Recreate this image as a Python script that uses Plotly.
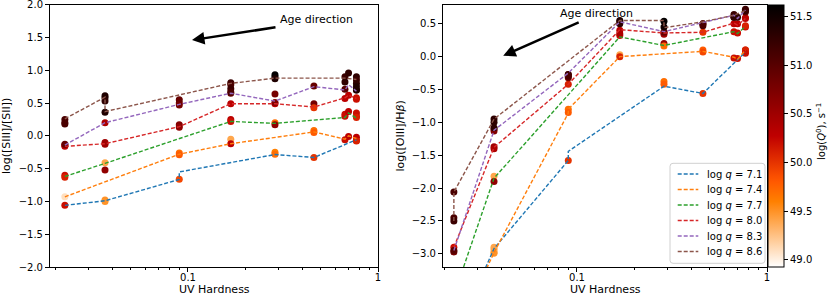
import math
import plotly.graph_objects as go

# ---------------- data ----------------
# UV hardness positions (model ages)
X = [0.0225, 0.0366, 0.090, 0.168, 0.287, 0.46, 0.67, 0.70, 0.77]
x1, x2, x3, x4, x5, x6, x7, x7b, x8 = X

q_labels = ["7.1", "7.4", "7.7", "8.0", "8.3", "8.6"]
line_colors = ["#1f77b4", "#ff7f0e", "#2ca02c", "#d62728", "#9467bd", "#8c564b"]

# ---- left panel: log([SIII]/[SII]) dashed tracks ----
L71_x = [x1, x2, x3, x3, x5, x6, x8]
L71_y = [-1.06, -0.99, -0.665, -0.55, -0.285, -0.33, -0.06]
L74_x = [x1, x3, x4, x6, x7, x7b, x8]
L74_y = [-0.93, -0.28, -0.12, 0.06, -0.05, 0.0, -0.04]
L77_x = [x1, x2, x4, x5, x7, x7b, x8]
L77_y = [-0.62, -0.42, 0.22, 0.19, 0.28, 0.35, 0.27]
L80_x = [x1, x2, x3, x4, x5, x6, x7, x7b, x8]
L80_y = [-0.16, -0.12, 0.14, 0.49, 0.49, 0.44, 0.58, 0.62, 0.57]
L83_x = [x1, x2, x3, x4, x5, x6, x7, x7b, x8]
L83_y = [-0.14, 0.20, 0.48, 0.65, 0.53, 0.75, 0.70, 0.78, 0.68]
L86_x = [x1, x2, x2, x4, x5, x7, x8]
L86_y = [0.26, 0.59, 0.37, 0.80, 0.88, 0.88, 0.86]

# ---- left panel model points (x, y, logQ0) ----
LP_x = [x1, x2, x2, x3, x5, x5, x6, x8,
        x1, x2, x3, x3, x4, x4, x6, x6, x7, x7b, x8, x8,
        x1, x1, x2, x4, x4, x5, x5, x7, x7, x7b, x8, x8, x8,
        x1, x1, x2, x2, x3, x3, x4, x5, x6, x6, x7, x7b, x8, x8,
        x1, x2, x3, x3, x3, x4, x5, x5, x6, x7, x8,
        x1, x1, x1, x2, x2, x2, x2, x4, x4, x4, x4, x5, x5, x5, x7, x7, x7b, x8, x8, x8, x8, x8]
LP_y = [-1.06, -0.98, -1.00, -0.66, -0.25, -0.28, -0.33, -0.07,
        -0.93, -0.41, -0.26, -0.29, -0.05, -0.12, 0.08, 0.05, -0.06, -0.01, -0.02, -0.08,
        -0.60, -0.63, -0.52, 0.25, 0.22, 0.20, 0.17, 0.30, 0.33, 0.37, 0.35, 0.30, 0.28,
        -0.14, -0.16, -0.10, -0.13, 0.17, 0.13, 0.49, 0.49, 0.49, 0.43, 0.57, 0.62, 0.58, 0.56,
        -0.13, 0.20, 0.55, 0.50, 0.47, 0.65, 0.64, 0.51, 0.76, 0.71, 0.70,
        0.25, 0.20, 0.18, 0.61, 0.58, 0.53, 0.36, 0.81, 0.78, 0.72, 0.67, 0.93, 0.90, 0.87, 0.90, 0.82, 0.96, 0.90, 0.85, 0.80, 0.75, 0.70]
LP_q = [50.2, 49.5, 49.5, 49.9, 49.6, 49.7, 50.0, 50.2,
        49.1, 49.4, 49.7, 49.8, 49.4, 50.3, 49.7, 49.8, 50.2, 50.3, 50.3, 50.1,
        50.2, 50.1, 50.6, 50.3, 50.2, 49.7, 50.6, 50.2, 50.2, 50.3, 50.2, 50.2, 50.1,
        50.4, 50.3, 50.5, 50.5, 50.7, 50.6, 50.3, 50.3, 50.8, 50.0, 50.3, 50.3, 50.2, 50.2,
        50.9, 50.4, 50.9, 50.9, 50.8, 50.9, 50.8, 50.7, 50.9, 51.0, 51.1,
        51.1, 51.1, 51.1, 51.4, 51.4, 51.3, 51.4, 51.2, 51.1, 51.2, 51.1, 51.6, 51.6, 51.4, 51.2, 51.3, 51.3, 51.3, 51.2, 51.3, 51.4, 51.4]

# ---- right panel: log([OIII]/Hbeta) dashed tracks ----
R71_x = [x1, x2, x3, x3, x5, x6, x8]
R71_y = [-4.3, -2.92, -1.58, -1.44, -0.45, -0.56, 0.07]
R74_x = [x1, x2, x3, x3, x4, x6, x7, x7b, x8]
R74_y = [-4.3, -2.98, -0.86, -0.80, 0.0, 0.08, -0.01, -0.04, 0.10]
R77_x = [x1, x2, x4, x5, x7, x7b, x8]
R77_y = [-3.63, -1.85, 0.30, 0.17, 0.38, 0.35, 0.46]
R80_x = [x1, x2, x3, x4, x5, x6, x7, x7b, x8]
R80_y = [-2.90, -1.38, -0.42, 0.41, 0.36, 0.37, 0.51, 0.48, 0.58]
R83_x = [x1, x2, x3, x4, x5, x6, x7, x7b, x8]
R83_y = [-2.95, -1.12, -0.25, 0.53, 0.38, 0.52, 0.63, 0.58, 0.71]
R86_x = [x1, x1, x2, x4, x5, x5, x6, x7, x8]
R86_y = [-2.50, -2.06, -0.95, 0.55, 0.55, 0.44, 0.53, 0.63, 0.70]

# ---- right panel model points (x, y, logQ0) ----
RP_x = [x2, x2, x3, x5, x5, x6, x8, x8,
        x2, x2, x3, x3, x4, x4, x6, x6, x7, x7b, x8, x8,
        x2, x2, x4, x5, x5, x7, x7b, x8, x8,
        x1, x1, x2, x2, x3, x4, x4, x5, x5, x6, x7, x7b, x8, x8,
        x1, x2, x2, x3, x3, x4, x5, x6, x7, x8,
        x1, x1, x1, x2, x2, x2, x3, x3, x4, x4, x5, x5, x6, x6, x7, x7, x7b, x8, x8]
RP_y = [-2.90, -2.97, -1.58, -0.38, -0.42, -0.56, 0.07, 0.10,
        -2.93, -2.99, -0.80, -0.85, 0.03, 0.0, 0.10, 0.07, -0.02, -0.03, 0.10, 0.05,
        -1.82, -1.90, 0.32, 0.20, 0.16, 0.38, 0.36, 0.45, 0.47,
        -2.90, -2.97, -1.37, -1.40, -0.42, 0.40, 0.35, 0.37, 0.34, 0.37, 0.50, 0.50, 0.59, 0.58,
        -2.95, -1.10, -1.13, -0.27, -0.32, 0.53, 0.37, 0.50, 0.60, 0.68,
        -2.06, -2.45, -2.50, -0.95, -1.00, -1.08, -0.27, -0.30, 0.55, 0.50, 0.54, 0.45, 0.50, 0.47, 0.64, 0.60, 0.60, 0.70, 0.72]
RP_q = [49.4, 49.5, 50.0, 49.7, 49.8, 50.0, 50.1, 50.1,
        49.4, 49.5, 49.7, 49.8, 49.4, 50.1, 49.8, 49.9, 50.2, 50.2, 50.1, 50.2,
        49.4, 50.6, 50.2, 50.6, 49.7, 50.2, 50.2, 50.2, 50.1,
        50.2, 50.8, 50.5, 50.4, 50.1, 50.3, 50.4, 50.4, 50.5, 50.0, 50.3, 50.3, 50.2, 50.3,
        51.0, 50.9, 50.7, 50.8, 50.8, 51.0, 50.9, 50.9, 51.0, 51.0,
        51.1, 51.1, 51.2, 51.3, 51.3, 51.3, 51.2, 51.1, 51.4, 51.3, 51.6, 51.5, 51.1, 51.1, 51.2, 51.3, 51.3, 51.3, 51.2]

left_lines = [(L71_x, L71_y), (L74_x, L74_y), (L77_x, L77_y),
              (L80_x, L80_y), (L83_x, L83_y), (L86_x, L86_y)]
right_lines = [(R71_x, R71_y), (R74_x, R74_y), (R77_x, R77_y),
               (R80_x, R80_y), (R83_x, R83_y), (R86_x, R86_y)]

yticks_left = [-2.0, -1.5, -1.0, -0.5, 0.0, 0.5, 1.0, 1.5, 2.0]
yticks_right = [-3.0, -2.5, -2.0, -1.5, -1.0, -0.5, 0.0, 0.5]
cbar_ticks = [49.0, 49.5, 50.0, 50.5, 51.0, 51.5]
xtick_major = [0.1, 1]
xtick_major_text = ["0.1", "1"]
xtick_minor = [0.02, 0.03, 0.04, 0.05, 0.06, 0.07, 0.08, 0.09,
               0.2, 0.3, 0.4, 0.5, 0.6, 0.7, 0.8, 0.9]

# ---------------- colormap (gist_heat_r) ----------------
def clip(v):
    return max(0.0, min(1.0, v))

cscale = []
N = 40
for i in range(N + 1):
    t = i / N
    s = 1 - t
    r, g, b = clip(1.5 * s), clip(2 * s - 1), clip(4 * s - 3)
    cscale.append([t, f"rgb({int(round(r*255))},{int(round(g*255))},{int(round(b*255))})"])

FONT = "DejaVu Sans"
W, H = 830, 297
TOP, BOT = 4.7, 267.0

def px(xp):
    return xp / W

def py(yp):
    return 1 - yp / H

fig = go.Figure()

# markers
fig.add_trace(go.Scatter(x=LP_x, y=LP_y, mode="markers", xaxis="x", yaxis="y",
                         marker=dict(size=7, color=LP_q, coloraxis="coloraxis"),
                         showlegend=False, hoverinfo="skip"))
fig.add_trace(go.Scatter(x=RP_x, y=RP_y, mode="markers", xaxis="x2", yaxis="y2",
                         marker=dict(size=7, color=RP_q, coloraxis="coloraxis"),
                         showlegend=False, hoverinfo="skip"))

# dashed tracks
for (lx, ly), col in zip(left_lines, line_colors):
    fig.add_trace(go.Scatter(x=lx, y=ly, mode="lines", xaxis="x", yaxis="y",
                             line=dict(color=col, width=1.4, dash="4px,2px"),
                             showlegend=False, hoverinfo="skip"))
for (rx, ry), col in zip(right_lines, line_colors):
    fig.add_trace(go.Scatter(x=rx, y=ry, mode="lines", xaxis="x2", yaxis="y2",
                             line=dict(color=col, width=1.4, dash="4px,2px"),
                             showlegend=False, hoverinfo="skip"))

axis_common = dict(showline=True, linecolor="black", linewidth=1, mirror=True,
                   ticks="outside", ticklen=4, tickcolor="black", showgrid=False,
                   zeroline=False, ticklabeloverflow="allow", automargin=False,
                   tickfont=dict(family=FONT, size=10, color="black"))

xaxis_common = dict(type="log", tickvals=xtick_major, ticktext=xtick_major_text,
                    minor=dict(tickvals=xtick_minor, ticklen=2, ticks="outside", tickcolor="black"),
                    ticklabelstandoff=-3, **axis_common)

fig.update_layout(
    width=W, height=H,
    margin=dict(l=0, r=0, t=0, b=0, autoexpand=False),
    paper_bgcolor="white", plot_bgcolor="white",
    font=dict(family=FONT, size=10, color="black"),
    showlegend=False,
    xaxis=dict(domain=[px(50), px(378)], range=[-1.726, 0], anchor="y", **xaxis_common),
    yaxis=dict(domain=[py(BOT), py(TOP)], range=[-2.0, 2.0],
               tickvals=yticks_left, tickformat=".1f",
               title=dict(text="log([SIII]/[SII])", font=dict(size=11), standoff=5),
               anchor="x", **axis_common),
    xaxis2=dict(domain=[px(443), px(767)], range=[-1.705, 0], anchor="y2", **xaxis_common),
    yaxis2=dict(domain=[py(BOT), py(TOP)], range=[-3.2, 0.79],
                tickvals=yticks_right, tickformat=".1f",
                title=dict(text="log([OIII]/H<i>β</i>)", font=dict(size=11), standoff=4),
                anchor="x2", **axis_common),
    coloraxis=dict(colorscale=cscale, cmin=48.93, cmax=51.62,
                   colorbar=dict(x=px(768), xanchor="left", y=py(TOP), yanchor="top",
                                 len=(BOT - TOP) / H, lenmode="fraction", thickness=16,
                                 outlinewidth=1, outlinecolor="black",
                                 ticks="outside", ticklen=4, tickcolor="black",
                                 tickvals=cbar_ticks, tickformat=".1f",
                                 tickfont=dict(family=FONT, size=10, color="black"),
                                 xpad=0, ypad=0, title=dict(text=""))),
)

# x-axis titles
for xc in [(50 + 378) / 2, (443 + 767) / 2]:
    fig.add_annotation(xref="paper", yref="paper", x=px(xc), y=py(289.3), text="UV Hardness",
                       showarrow=False, xanchor="center", yanchor="middle", borderpad=0,
                       font=dict(family=FONT, size=11, color="black"))

# colorbar title
fig.add_annotation(xref="paper", yref="paper", x=px(821), y=py(132),
                   text="log(<i>Q</i><sup>0</sup>), s<sup>−1</sup>", textangle=-90,
                   showarrow=False, xanchor="center", yanchor="middle", borderpad=0,
                   font=dict(family=FONT, size=10, color="black"))

# "Age direction" arrows and labels
fig.add_annotation(xref="x", yref="y", x=math.log10(0.105), y=1.46, ax=85, ay=-13,
                   text="", showarrow=True, arrowhead=2, arrowsize=1, arrowwidth=2.5,
                   arrowcolor="black")
fig.add_annotation(xref="x", yref="y", x=math.log10(0.298), y=1.77, text="Age direction",
                   showarrow=False, xanchor="left", yanchor="middle",
                   font=dict(family=FONT, size=11, color="black"))
fig.add_annotation(xref="x2", yref="y2", x=math.log10(0.0409), y=0.013, ax=77, ay=-34,
                   text="", showarrow=True, arrowhead=2, arrowsize=1, arrowwidth=2.5,
                   arrowcolor="black")
fig.add_annotation(xref="x2", yref="y2", x=math.log10(0.0797), y=0.663, text="Age direction",
                   showarrow=False, xanchor="left", yanchor="middle",
                   font=dict(family=FONT, size=11, color="black"))

# legend (matplotlib-style box, drawn in paper coordinates)
bx0, bx1, by0, by1, rad = 670, 765, 163.3, 263.3, 3
path = (f"M {px(bx0+rad)} {py(by0)} L {px(bx1-rad)} {py(by0)} "
        f"Q {px(bx1)} {py(by0)} {px(bx1)} {py(by0+rad)} "
        f"L {px(bx1)} {py(by1-rad)} Q {px(bx1)} {py(by1)} {px(bx1-rad)} {py(by1)} "
        f"L {px(bx0+rad)} {py(by1)} Q {px(bx0)} {py(by1)} {px(bx0)} {py(by1-rad)} "
        f"L {px(bx0)} {py(by0+rad)} Q {px(bx0)} {py(by0)} {px(bx0+rad)} {py(by0)} Z")
fig.add_shape(type="path", xref="paper", yref="paper", path=path,
              line=dict(color="#d0d0d0", width=1), fillcolor="rgba(255,255,255,0.8)")
for i, (col, ql) in enumerate(zip(line_colors, q_labels)):
    yy = 174 + 15.5 * i
    fig.add_shape(type="line", xref="paper", yref="paper",
                  x0=px(677.7), x1=px(698.3), y0=py(yy), y1=py(yy),
                  line=dict(color=col, width=1.4, dash="4px,2px"))
    fig.add_annotation(xref="paper", yref="paper", x=px(705), y=py(yy),
                       text=f"log <i>q</i> = {ql}", showarrow=False,
                       xanchor="left", yanchor="middle",
                       font=dict(family=FONT, size=10, color="black"))

fig.write_html("out.html", config={"displayModeBar": False},
               post_script="document.body.style.margin='0px';document.body.style.overflow='hidden';")
